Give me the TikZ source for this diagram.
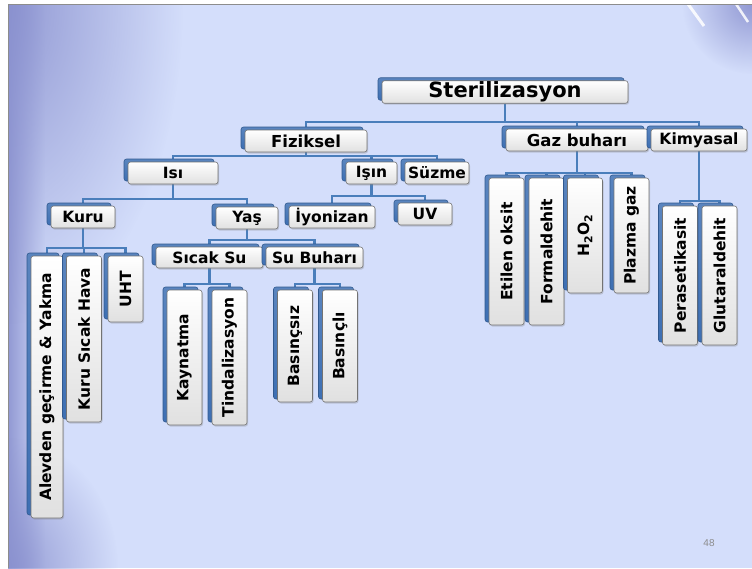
\documentclass[tikz,border=0pt]{standalone}
\usepackage{fontspec}
\usepackage{graphicx}
\setmainfont{DejaVu Sans}
\newfontfamily\numfont{Liberation Sans}
\usetikzlibrary{shadows,calc,fadings}
\definecolor{bgc}{HTML}{D4DEFB}
\definecolor{bgdark}{HTML}{8A91CF}
\definecolor{linkblue}{HTML}{4A7EBB}
\definecolor{shadeblue}{HTML}{3D6FB3}
\tikzfading[name=radfade, inner color=transparent!10, outer color=transparent!100]
\tikzfading[name=sidefade, left color=transparent!10, right color=transparent!100]
\pgfdeclarelayer{bglayer}
\pgfdeclarelayer{lines}
\pgfsetlayers{bglayer,lines,main}
\tikzset{
  card/.style={draw=black!55, line width=0.6pt, rounded corners=2.5pt,
    top color=white, bottom color=black!12, inner sep=1pt, text=black,
    drop shadow={shadow xshift=1pt, shadow yshift=-1.5pt, opacity=0.3},
    general shadow={shadow xshift=-4pt, shadow yshift=3pt,
      top color=shadeblue!85, bottom color=shadeblue, draw=shadeblue!80!black},
    font=\fontsize{15.5}{15.5}\selectfont\bfseries},
  hcard/.style={card, minimum height=22pt},
  vcard/.style={card, minimum width=35pt},
  conn/.style={draw=linkblue, line width=2.2pt},
}
\begin{document}
\begin{tikzpicture}[x=1pt,y=-1pt]
\useasboundingbox (0,0) rectangle (752,568);
\begin{pgfonlayer}{bglayer}
  \fill[white] (0,0) rectangle (752,568);
  \fill[bgc] (8,4) rectangle (752,568);
  \begin{scope}
    \clip (8,4) rectangle (752,568);
    \fill[bgdark, path fading=sidefade] (8,4) rectangle (45,568);
    \fill[bgdark, path fading=radfade] (8,4) ellipse (175 and 320);
    \fill[bgdark, path fading=radfade] (8,568) ellipse (110 and 130);
    \fill[bgdark, path fading=radfade] (752,4) circle (70);
    \draw[white, line width=3pt, opacity=0.85] (688,4) -- (704,26);
    \draw[white, line width=2.5pt, opacity=0.85] (736,4) -- (748,22);
  \end{scope}
  \draw[black!45, line width=0.8pt] (8,568) -- (8,4) -- (752,4);
\end{pgfonlayer}

% level 0/1
\node[hcard, minimum width=246pt, font=\fontsize{21}{21}\selectfont\bfseries] (ster) at (505,92) {Sterilizasyon};
\node[hcard, minimum width=122pt, font=\fontsize{16.5}{16.5}\selectfont\bfseries] (fiz) at (306,141) {Fiziksel};
\node[hcard, minimum width=142pt, font=\fontsize{16.5}{16.5}\selectfont\bfseries] (gaz) at (577,140) {Gaz buharı};
\node[hcard, minimum width=96pt, font=\fontsize{15.5}{15.5}\selectfont\bfseries] (kim) at (699,140) {Kimyasal};
% level 2
\node[hcard, minimum width=90pt] (isi) at (173,173) {Isı};
\node[hcard, minimum width=51pt] (isin) at (371.5,173) {Işın};
\node[hcard, minimum width=64pt] (suzme) at (437,173) {Süzme};
% level 3
\node[hcard, minimum width=64pt] (kuru) at (83,217) {Kuru};
\node[hcard, minimum width=62pt] (yas) at (247,218) {Yaş};
\node[hcard, minimum width=86pt] (iyon) at (332,217) {İyonizan};
\node[hcard, minimum width=54pt] (uv) at (425,214) {UV};
\node[hcard, minimum width=107pt, minimum height=21pt] (sicak) at (209.5,257.5) {Sıcak Su};
\node[hcard, minimum width=97pt, minimum height=21pt] (subuh) at (314.5,257.5) {Su Buharı};
% verticals
\node[vcard, minimum width=32pt, minimum height=262pt] (alev) at (47,387) {\rotatebox{90}{Alevden geçirme \& Yakma}};
\node[vcard, minimum height=166pt] (kuruh) at (84,339) {\rotatebox{90}{Kuru Sıcak Hava}};
\node[vcard, minimum height=66pt] (uht) at (125.5,289) {\rotatebox{90}{UHT}};
\node[vcard, minimum height=135pt] (kayn) at (184.5,357.5) {\rotatebox{90}{Kaynatma}};
\node[vcard, minimum height=135pt] (tind) at (229.5,357.5) {\rotatebox{90}{Tindalizasyon}};
\node[vcard, minimum height=112pt] (bsiz) at (295,346) {\rotatebox{90}{Basınçsız}};
\node[vcard, minimum height=112pt] (bli) at (340,346) {\rotatebox{90}{Basınçlı}};
\node[vcard, minimum height=147pt] (etil) at (506.5,251.5) {\rotatebox{90}{Etilen oksit}};
\node[vcard, minimum height=147pt] (form) at (546.5,251.5) {\rotatebox{90}{Formaldehit}};
\node[vcard, minimum height=115pt] (hoo) at (585,235.5) {\rotatebox{90}{H\textsubscript{2}O\textsubscript{2}}};
\node[vcard, minimum height=115pt] (plaz) at (631.5,235.5) {\rotatebox{90}{Plazma gaz}};
\node[vcard, minimum height=139pt] (pera) at (680,275.5) {\rotatebox{90}{Perasetikasit}};
\node[vcard, minimum height=139pt] (glut) at (719.5,275.5) {\rotatebox{90}{Glutaraldehit}};

\node[text=black!45, font=\numfont\fontsize{10}{10}\selectfont] (pg) at (709,543) {48};

% bus coordinates
\coordinate (b0) at (0,122);
\coordinate (b1) at (0,156);
\coordinate (b2) at (0,173);
\coordinate (b3) at (0,201);
\coordinate (b4) at (0,199);
\coordinate (b5) at (0,196);
\coordinate (b6) at (0,248);
\coordinate (b7) at (0,240);
\coordinate (b8) at (0,284);

\begin{pgfonlayer}{lines}
  \foreach \c in {fiz,gaz,kim} \draw[conn] (ster.south) -- (ster.south |- b0) -| (\c.north);
  \foreach \c in {isi,isin,suzme} \draw[conn] (fiz.south) -- (fiz.south |- b1) -| (\c.north);
  \foreach \c in {etil,form,hoo,plaz} \draw[conn] (gaz.south) -- (gaz.south |- b2) -| (\c.north);
  \foreach \c in {pera,glut} \draw[conn] (kim.south) -- (kim.south |- b3) -| (\c.north);
  \foreach \c in {kuru,yas} \draw[conn] (isi.south) -- (isi.south |- b4) -| (\c.north);
  \foreach \c in {iyon,uv} \draw[conn] (isin.south) -- (isin.south |- b5) -| (\c.north);
  \foreach \c in {alev,kuruh,uht} \draw[conn] (kuru.south) -- (kuru.south |- b6) -| (\c.north);
  \foreach \c in {sicak,subuh} \draw[conn] (yas.south) -- (yas.south |- b7) -| (\c.north);
  \foreach \c in {kayn,tind} \draw[conn] (sicak.south) -- (sicak.south |- b8) -| (\c.north);
  \foreach \c in {bsiz,bli} \draw[conn] (subuh.south) -- (subuh.south |- b8) -| (\c.north);
\end{pgfonlayer}
\end{tikzpicture}
\end{document}
